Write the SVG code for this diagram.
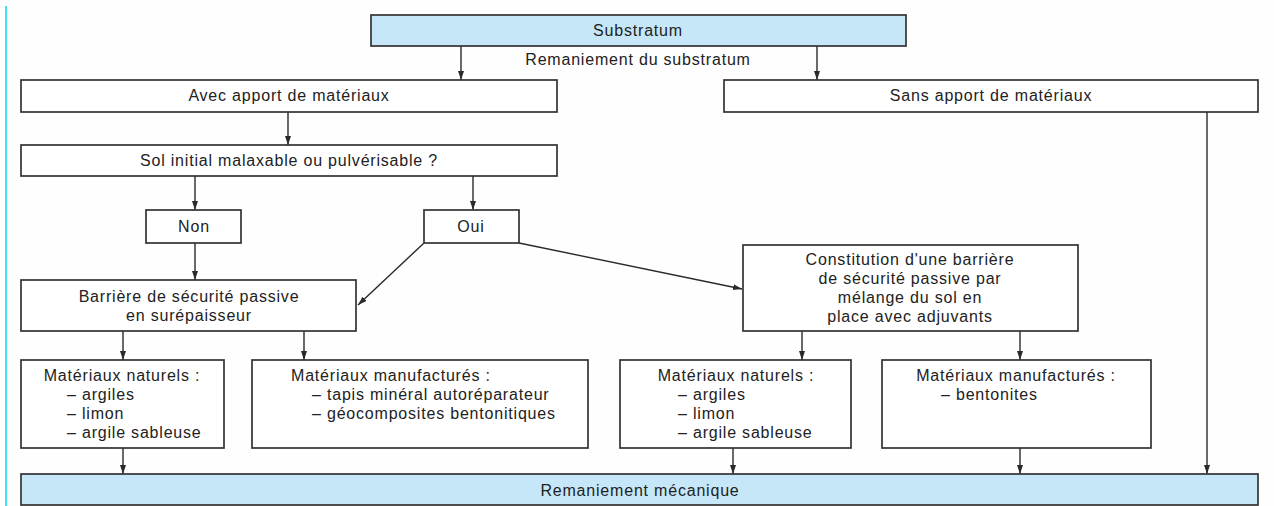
<svg xmlns="http://www.w3.org/2000/svg" width="1274" height="506" viewBox="0 0 1274 506">
<style>
text{font-family:"Liberation Sans",Arial,sans-serif;font-size:16px;letter-spacing:0.8px;fill:#222}
.c{text-anchor:middle}
.box{fill:#fff;stroke:#333;stroke-width:1.7}
.blue{fill:#c6e7f8;stroke:#333;stroke-width:1.7}
.ln{fill:none;stroke:#2a2a2a;stroke-width:1.4;marker-end:url(#ah)}
</style>
<defs>
<marker id="ah" markerUnits="userSpaceOnUse" markerWidth="10" markerHeight="8" refX="9" refY="3" orient="auto">
<path d="M0,0 L9,3 L0,6 z" fill="#2a2a2a"/>
</marker>
</defs>
<rect width="1274" height="506" fill="#fefefe"/>
<line x1="6" y1="6" x2="6" y2="506" stroke="#3fe3ea" stroke-width="2"/>

<g id="connectors">
<line class="ln" x1="461" y1="46" x2="461" y2="80"/>
<line class="ln" x1="817" y1="46" x2="817" y2="80"/>
<line class="ln" x1="288" y1="112" x2="288" y2="145"/>
<line class="ln" x1="195" y1="176" x2="195" y2="210"/>
<line class="ln" x1="473" y1="176" x2="473" y2="210"/>
<line class="ln" x1="195" y1="243" x2="195" y2="280"/>
<line class="ln" x1="424" y1="243" x2="358" y2="305"/>
<line class="ln" x1="519" y1="243" x2="742" y2="289"/>
<line class="ln" x1="123" y1="331" x2="123" y2="360"/>
<line class="ln" x1="304" y1="331" x2="304" y2="360"/>
<line class="ln" x1="802" y1="331" x2="802" y2="360"/>
<line class="ln" x1="1020" y1="331" x2="1020" y2="360"/>
<line class="ln" x1="123" y1="448" x2="123" y2="474"/>
<line class="ln" x1="733" y1="448" x2="733" y2="474"/>
<line class="ln" x1="1020" y1="448" x2="1020" y2="474"/>
<line class="ln" x1="1207" y1="112" x2="1207" y2="474"/>
</g>

<g id="substratum">
<rect class="blue" x="371" y="15" width="535" height="31"/>
<text class="c" x="638" y="36">Substratum</text>
</g>
<g id="label-remaniement">
<text class="c" x="638" y="65">Remaniement du substratum</text>
</g>
<g id="avec">
<rect class="box" x="21" y="80" width="536" height="32"/>
<text class="c" x="289" y="101">Avec apport de matériaux</text>
</g>
<g id="sans">
<rect class="box" x="724" y="80" width="534" height="32"/>
<text class="c" x="991" y="101">Sans apport de matériaux</text>
</g>
<g id="sol">
<rect class="box" x="21" y="145" width="536" height="31"/>
<text class="c" x="289" y="166">Sol initial malaxable ou pulvérisable ?</text>
</g>
<g id="non">
<rect class="box" x="146" y="210" width="95" height="33"/>
<text class="c" x="194" y="232">Non</text>
</g>
<g id="oui">
<rect class="box" x="424" y="210" width="95" height="33"/>
<text class="c" x="471" y="232">Oui</text>
</g>
<g id="barriere">
<rect class="box" x="21" y="280" width="335" height="51"/>
<text class="c" x="189" y="302">Barrière de sécurité passive</text>
<text class="c" x="189" y="321">en surépaisseur</text>
</g>
<g id="constitution">
<rect class="box" x="743" y="245" width="335" height="86"/>
<text class="c" x="910" y="265">Constitution d'une barrière</text>
<text class="c" x="910" y="284">de sécurité passive par</text>
<text class="c" x="910" y="303">mélange du sol en</text>
<text class="c" x="910" y="322">place avec adjuvants</text>
</g>
<g id="matnat1">
<rect class="box" x="21" y="360" width="203" height="88"/>
<text class="c" x="122" y="381">Matériaux naturels :</text>
<text x="67" y="400">– argiles</text>
<text x="67" y="419">– limon</text>
<text x="67" y="438">– argile sableuse</text>
</g>
<g id="matman1">
<rect class="box" x="252" y="360" width="336" height="88"/>
<text x="291" y="381">Matériaux manufacturés :</text>
<text x="312" y="400">– tapis minéral autoréparateur</text>
<text x="312" y="419">– géocomposites bentonitiques</text>
</g>
<g id="matnat2">
<rect class="box" x="620" y="360" width="231" height="88"/>
<text class="c" x="736" y="381">Matériaux naturels :</text>
<text x="678" y="400">– argiles</text>
<text x="678" y="419">– limon</text>
<text x="678" y="438">– argile sableuse</text>
</g>
<g id="matman2">
<rect class="box" x="882" y="360" width="269" height="88"/>
<text class="c" x="1016" y="381">Matériaux manufacturés :</text>
<text x="941" y="400">– bentonites</text>
</g>
<g id="remaniement-mecanique">
<rect class="blue" x="21" y="474" width="1237" height="31"/>
<text class="c" x="640" y="496">Remaniement mécanique</text>
</g>
</svg>
